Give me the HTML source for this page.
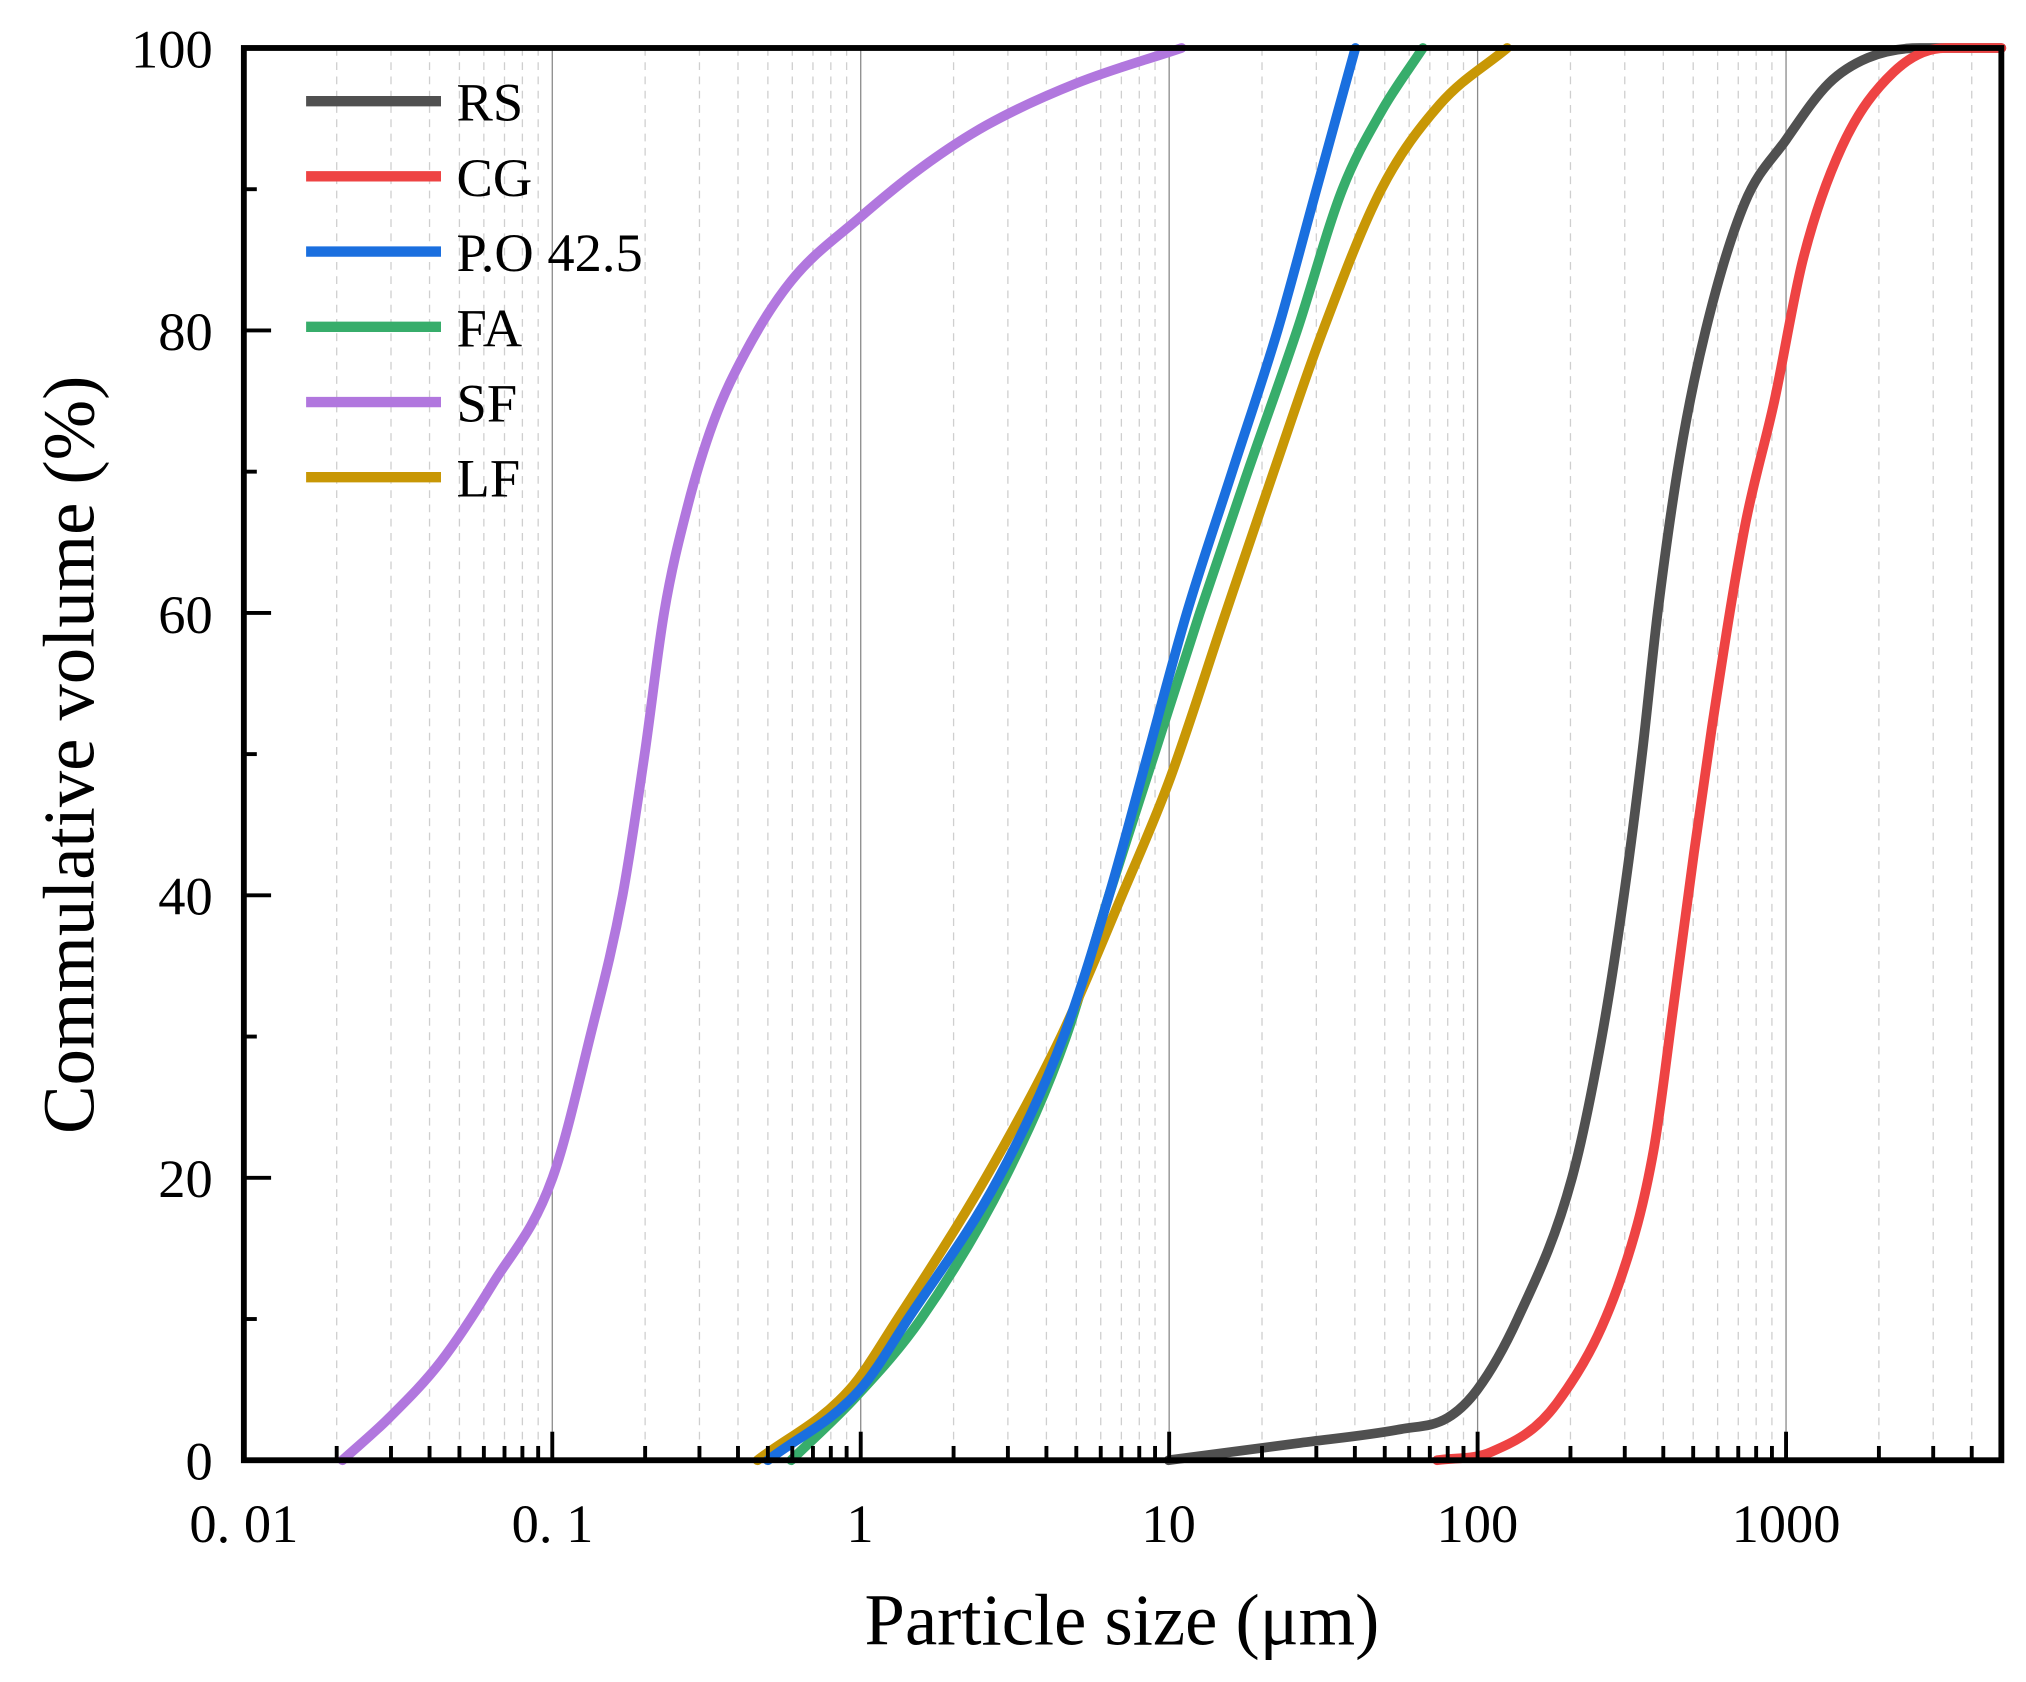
<!DOCTYPE html>
<html><head><meta charset="utf-8"><style>html,body{margin:0;padding:0;background:#fff}svg{display:block}</style></head>
<body>
<svg id="s" width="2026" height="1682" viewBox="0 0 1562 1297" preserveAspectRatio="none" xmlns="http://www.w3.org/2000/svg" font-family="Liberation Serif, serif">
<g id="grid"></g>
<g id="curves" fill="none" stroke-width="7.5" stroke-linecap="round" stroke-linejoin="round"></g>
<g id="ticks" stroke="#000"></g>
<rect x="188" y="37" width="1355" height="1089" fill="none" stroke="#000" stroke-width="4.5"/>
<g font-size="42" text-anchor="end">
<text x="164" y="1141">0</text><text x="164" y="923">20</text><text x="164" y="705">40</text>
<text x="164" y="488">60</text><text x="164" y="270">80</text><text x="164" y="52">100</text>
</g>
<g font-size="42" text-anchor="middle">
<text x="188" y="1189">0. 01</text><text x="426" y="1189">0. 1</text><text x="663" y="1189">1</text>
<text x="901" y="1189">10</text><text x="1139" y="1189">100</text><text x="1377" y="1189">1000</text>
</g>
<text x="865" y="1268" font-size="56" text-anchor="middle">Particle size (μm)</text>
<text transform="translate(72,582) rotate(-90)" font-size="56" text-anchor="middle">Commulative volume (%)</text>
<g stroke-width="8">
<line x1="236" y1="78" x2="340" y2="78" stroke="#505050"/>
<line x1="236" y1="136" x2="340" y2="136" stroke="#ee4343"/>
<line x1="236" y1="194" x2="340" y2="194" stroke="#1a6fdf"/>
<line x1="236" y1="252" x2="340" y2="252" stroke="#37ad6b"/>
<line x1="236" y1="310" x2="340" y2="310" stroke="#b177de"/>
<line x1="236" y1="368" x2="340" y2="368" stroke="#c89705"/>
</g>
<g font-size="42">
<text x="352" y="93">RS</text><text x="352" y="151">CG</text><text x="352" y="209">P.O 42.5</text>
<text x="352" y="267">FA</text><text x="352" y="325">SF</text><text x="352" y="383">LF</text>
</g>
</svg>
<script>
var NS="http://www.w3.org/2000/svg";
function el(p,t,a){var e=document.createElementNS(NS,t);for(var k in a)e.setAttribute(k,a[k]);p.appendChild(e);return e;}
var g=document.getElementById('grid'),tk=document.getElementById('ticks'),cv=document.getElementById('curves');
var L=188,D=237.8,B=1126,T=37;
for(var d=0;d<6;d++){for(var m=1;m<10;m++){var x=L+D*(d+Math.log10(m));if(x>1541)continue;
 if(m==1){if(d>0)el(g,'line',{x1:x,y1:T,x2:x,y2:B,stroke:'#8a8a8a','stroke-width':1});el(tk,'line',{x1:x,y1:B,x2:x,y2:B-22,'stroke-width':3});}
 else{el(g,'line',{x1:x,y1:T,x2:x,y2:B,stroke:'#cfcfcf','stroke-width':1,'stroke-dasharray':'6,5'});el(tk,'line',{x1:x,y1:B,x2:x,y2:B-11,'stroke-width':3});}}}
for(var v=10;v<100;v+=10){var y=B-v*10.89;el(tk,'line',{x1:L,y1:y,x2:L+(v%20==0?21:10),y2:y,'stroke-width':3});}
function Y(p){return B-p*10.89;}
function mono(pts){var n=pts.length,xs=pts.map(function(p){return p[0]}),ys=pts.map(function(p){return p[1]});
 var dl=[],m=[];for(var i=0;i<n-1;i++)dl.push((ys[i+1]-ys[i])/(xs[i+1]-xs[i]));
 m[0]=dl[0];m[n-1]=dl[n-2];for(i=1;i<n-1;i++){m[i]=(dl[i-1]*dl[i]<=0)?0:(dl[i-1]+dl[i])/2;}
 for(i=0;i<n-1;i++){if(dl[i]==0){m[i]=0;m[i+1]=0;continue;}var a=m[i]/dl[i],b=m[i+1]/dl[i],s=a*a+b*b;if(s>9){var t=3/Math.sqrt(s);m[i]=t*a*dl[i];m[i+1]=t*b*dl[i];}}
 var str='M'+xs[0]+','+Y(ys[0]);for(i=0;i<n-1;i++){var h=xs[i+1]-xs[i];
 str+=' C'+(xs[i]+h/3)+','+Y(ys[i]+m[i]*h/3)+' '+(xs[i+1]-h/3)+','+Y(ys[i+1]-m[i+1]*h/3)+' '+xs[i+1]+','+Y(ys[i+1]);}return str;}
var S={
'#b177de':[[264,0],[300,3],[340,7],[380,12.5],[426,20],[455,30],[480,40],[497,50],[512,60],[530,67.5],[550,73.5],[575,78.5],[610,83.5],[663,88],[710,91.5],[760,94.5],[830,97.5],[911,100]],
'#505050':[[901,0],[1000,1.2],[1080,2.2],[1116,3],[1139,5],[1170,10],[1212,20],[1235,30],[1252,40],[1266,50],[1278,60],[1295,71],[1315,80],[1345,89],[1377,93.5],[1410,97.5],[1440,99.3],[1480,100],[1543,100]],
'#ee4343':[[1108,0],[1150,0.6],[1200,4],[1250,13],[1275,22],[1290,32],[1306,43],[1320,52],[1345,66],[1368,75],[1390,85],[1420,93],[1460,98.3],[1500,100],[1543,100]],
'#37ad6b':[[610,0],[660,4.5],[710,10],[775,20],[822,30],[855,40],[890,50],[925,60],[962,70],[1000,80],[1035,90],[1065,95.5],[1097,100]],
'#c89705':[[584,0],[655,5],[692,10],[760,20],[818,30],[865,40],[901,48],[945,60],[982,70],[1020,80],[1065,90],[1110,96],[1162,100]],
'#1a6fdf':[[592,0],[663,5],[700,10],[770,20],[820,30],[855,40],[885,50],[915,60],[950,70],[985,80],[1015,90],[1030,95],[1045,100]]};
for(var c in S){el(cv,'path',{d:mono(S[c]),stroke:c});}
</script>
</body></html>
